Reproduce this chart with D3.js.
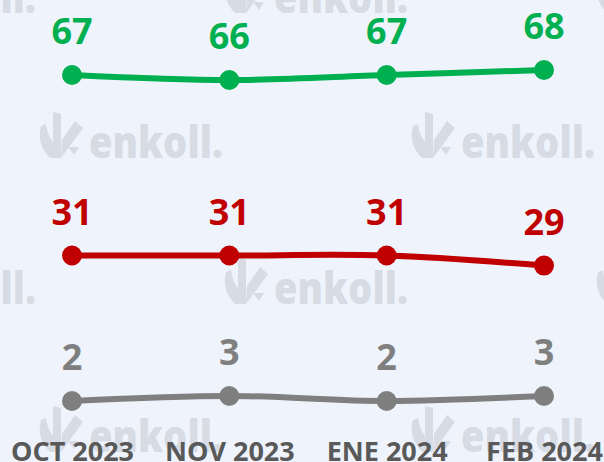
<!DOCTYPE html>
<html>
<head>
<meta charset="utf-8">
<script src="https://cdn.jsdelivr.net/npm/d3@7"></script>
<style>
  html, body { margin: 0; padding: 0; background: #eff4fc; }
  svg { display: block; }
</style>
</head>
<body>
<div id="chartContainer"></div>
<script>
const categories = ['OCT 2023', 'NOV 2023', 'ENE 2024', 'FEB 2024']
const greenValues = [67, 66, 67, 68]
const redValues = [31, 31, 31, 29]
const grayValues = [2, 3, 2, 3]

const series = [
  { name: 'green', color: '#00b050', values: greenValues },
  { name: 'red', color: '#c00000', values: redValues },
  { name: 'gray', color: '#7f7f7f', values: grayValues }
]

const width = 604
const height = 462
const font = '"Open Sans", Lato, sans-serif'

const svg = d3.select('#chartContainer').append('svg')
  .attr('width', width)
  .attr('height', height)
  .attr('xmlns', 'http://www.w3.org/2000/svg')

svg.append('rect')
  .attr('width', width)
  .attr('height', height)
  .attr('fill', '#eff4fc')

// watermark tiles (brand mark repeated in the background)
const marks = []
const rows = [13, 158, 304, 452]
rows.forEach((y, i) => {
  const xs = i % 2 === 0 ? [-149, 223, 595] : [38, 410]
  xs.forEach(x => marks.push({ x: x, y: y }))
})

const wm = svg.append('g').attr('class', 'watermark')
const tile = wm.selectAll('g')
  .data(marks)
  .enter()
  .append('g')
  .attr('transform', d => 'translate(' + d.x + ',' + d.y + ')')

tile.append('path')
  .attr('d', 'M3,-32 Q-2,-14 12,0 L23,0 L23,-44 L15,-46 L15,-16 Q9,-24 8,-34 Z M23,0 L45,-30 L37,-37 L24,-18 Z M30,-11 L41,-11 L36,-3 Z')
  .attr('fill', '#d7dbe4')

tile.append('text')
  .attr('x', 51)
  .attr('y', 0)
  .attr('fill', '#d7dbe4')
  .attr('textLength', 134)
  .attr('lengthAdjust', 'spacingAndGlyphs')
  .style('font-family', font)
  .style('font-weight', 800)
  .style('font-size', '44px')
  .text('enkoll.')

// scales
const x = d3.scalePoint()
  .domain(categories)
  .range([72, 544])

const y = d3.scaleLinear()
  .domain([0, 100])
  .range([411, -90.5])

const line = d3.line()
  .x((d, i) => x(categories[i]))
  .y(d => y(d))
  .curve(d3.curveCatmullRom.alpha(0.5))

// x axis labels
const xAxis = svg.append('g')
  .attr('transform', 'translate(0,461)')
  .call(d3.axisBottom(x).tickSize(0).tickPadding(0))

xAxis.select('.domain').remove()
xAxis.selectAll('text')
  .attr('dy', 0)
  .attr('y', 0)
  .attr('fill', '#595959')
  .style('font-family', font)
  .style('font-weight', 'bold')
  .style('font-size', '27px')

// lines, markers and data labels
const groups = svg.selectAll('.series')
  .data(series)
  .enter()
  .append('g')
  .attr('class', 'series')

groups.append('path')
  .attr('d', d => line(d.values))
  .attr('fill', 'none')
  .attr('stroke', d => d.color)
  .attr('stroke-width', 6)
  .attr('stroke-linecap', 'round')

groups.selectAll('circle')
  .data(d => d.values.map((v, i) => ({ v: v, i: i, color: d.color })))
  .enter()
  .append('circle')
  .attr('cx', d => x(categories[d.i]))
  .attr('cy', d => y(d.v))
  .attr('r', 10)
  .attr('fill', d => d.color)

groups.selectAll('.label')
  .data(d => d.values.map((v, i) => ({ v: v, i: i, color: d.color })))
  .enter()
  .append('text')
  .attr('class', 'label')
  .attr('x', d => x(categories[d.i]))
  .attr('y', d => y(d.v) - 31)
  .attr('text-anchor', 'middle')
  .attr('fill', d => d.color)
  .style('font-family', font)
  .style('font-weight', 'bold')
  .style('font-size', '36px')
  .text(d => d.v)
</script>
</body>
</html>
